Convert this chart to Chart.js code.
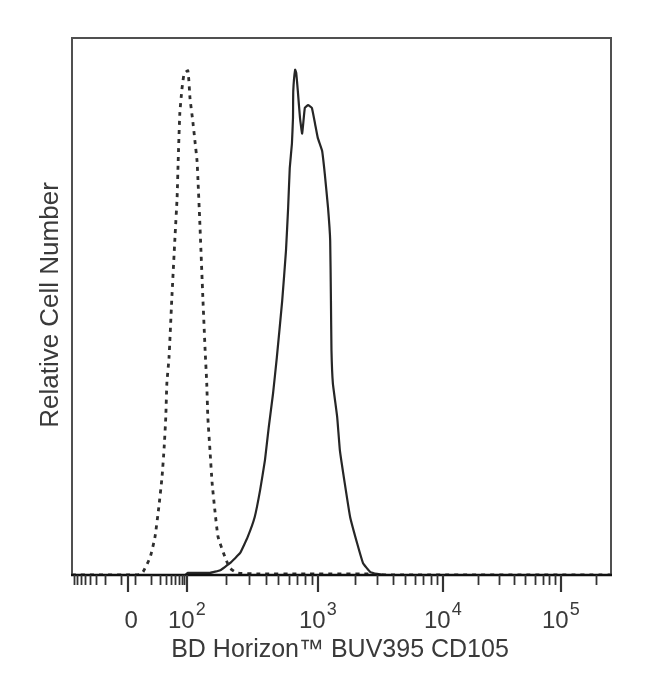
<!DOCTYPE html>
<html>
<head>
<meta charset="utf-8">
<script src="https://cdn.jsdelivr.net/npm/chart.js@4.4.1/dist/chart.umd.min.js"></script>
<style>
  html, body { margin: 0; padding: 0; background: #fff; }
  #wrap { width: 650px; height: 693px; }
</style>
</head>
<body>
<div id="wrap"><canvas id="histo" width="650" height="693"></canvas></div>
<script>
// x axis is in display channels (0-1000) of a biexponential scale
const decadeValues = [0, 100, 1000, 10000, 100000];
const decadeChannels = [104, 213, 456, 688, 907];
const tickBase = ['0', '10', '10', '10', '10'];
const tickExp = ['', '2', '3', '4', '5'];

const xTitle = 'BD Horizon\u2122 BUV395 CD105';
const yTitle = 'Relative Cell Number';

// isotype control (dashed)
const isoX = [0, 108, 126, 132, 145, 154, 161, 167, 171, 174, 176, 180, 185, 191, 195, 197, 200, 204, 208, 215,
  219, 224, 228, 232, 234, 237, 243, 247, 250, 252, 256, 260, 265, 271, 284, 293, 306, 349, 423, 553, 571, 1000];
const isoY = [0, 0, 0.1, 0.6, 3.3, 7.1, 12.6, 18.2, 23.8, 29.4, 35.7, 40.5, 51.1, 62.8, 70.3, 77.1, 85.9, 90.5, 93.3, 93.9,
  88.7, 84.6, 80.9, 77.1, 72.9, 66.0, 51.1, 41.8, 35.7, 29.4, 23.2, 17.1, 12.1, 7.1, 3.3, 1.3, 0.4, 0.2, 0.2, 0.2, 0, 0];

// CD105 stained (solid)
const cdX = [0, 210, 215, 237, 256, 275, 293, 312, 326, 339, 349, 358, 365, 373, 380, 390, 397, 401, 404, 408, 410, 410.5,
  414, 416, 419, 423, 427, 432, 438, 445, 451, 456, 464, 469, 475, 479, 480.4, 481.4, 484, 492, 497, 506, 516, 529, 540,
  553, 566, 581, 1000];
const cdY = [0, 0, 0.4, 0.4, 0.4, 0.9, 2.2, 4.1, 7.1, 10.8, 15.8, 21.4, 27.5, 33.8, 40.5, 51.1, 60.4, 68.4, 75.8, 80.3, 85.1, 90.1,
  94.1, 93.5, 90.1, 85.1, 82.2, 87.0, 87.5, 87.0, 84.0, 81.4, 79.0, 74.7, 68.4, 62.3, 51.1, 41.8, 35.7, 29.4, 23.2, 17.1, 10.8, 5.9, 2.2,
  0.6, 0.2, 0, 0];

function toPoints(xs, ys) {
  return xs.map((x, i) => ({ x, y: ys[i] }));
}

function channelFor(v) {
  const a = Math.abs(v);
  const s = Math.sign(v);
  if (a <= 100) {
    const span = decadeChannels[1] - decadeChannels[0];
    const f = a === 0 ? 0 : Math.max(0, 1 - (1 - Math.log10(a / 10)) * 0.88);
    return decadeChannels[0] + s * span * f;
  }
  const d = Math.log10(a);
  const k = Math.min(Math.floor(d), 5);
  const lo = decadeChannels[k - 1];
  const hi = k < 5 ? decadeChannels[k] : lo + (lo - decadeChannels[k - 2]);
  return lo + (d - k) * (hi - lo);
}

function minorTicks() {
  const vals = [];
  for (let k = 1; k <= 9; k += 1) {
    vals.push(-10 * k, 10 * k);
  }
  [100, 1000, 10000, 100000].forEach(dec => {
    for (let k = 2; k <= 9; k += 1) vals.push(k * dec);
  });
  return vals.map(channelFor).filter(c => c >= 0 && c <= 1000);
}

const axisPainter = {
  id: 'axisPainter',
  afterDraw(chart) {
    const { ctx, chartArea: area, scales } = chart;
    const xs = scales.x;
    ctx.save();

    // frame
    ctx.strokeStyle = '#505050';
    ctx.lineWidth = 2;
    ctx.beginPath();
    ctx.moveTo(area.left, area.bottom);
    ctx.lineTo(area.left, area.top);
    ctx.lineTo(area.right, area.top);
    ctx.lineTo(area.right, area.bottom);
    ctx.stroke();

    ctx.strokeStyle = '#111';
    ctx.lineWidth = 2.5;
    ctx.beginPath();
    ctx.moveTo(area.left - 1, area.bottom);
    ctx.lineTo(area.right + 1, area.bottom);
    ctx.stroke();

    // ticks
    ctx.lineWidth = 1.8;
    ctx.strokeStyle = '#333';
    minorTicks().forEach(c => {
      const px = Math.round(xs.getPixelForValue(c)) + 0.5;
      ctx.beginPath();
      ctx.moveTo(px, area.bottom);
      ctx.lineTo(px, area.bottom + 10);
      ctx.stroke();
    });
    ctx.lineWidth = 2.2;
    decadeChannels.forEach(c => {
      const px = Math.round(xs.getPixelForValue(c));
      ctx.beginPath();
      ctx.moveTo(px, area.bottom);
      ctx.lineTo(px, area.bottom + 17);
      ctx.stroke();
    });

    // tick labels
    ctx.fillStyle = '#3a3a3a';
    ctx.textBaseline = 'alphabetic';
    const baseFont = '24px "Liberation Sans", Arial, sans-serif';
    const expFont = '18px "Liberation Sans", Arial, sans-serif';
    decadeChannels.forEach((c, i) => {
      const px = xs.getPixelForValue(c);
      ctx.font = baseFont;
      const wb = ctx.measureText(tickBase[i]).width;
      ctx.font = expFont;
      const we = tickExp[i] ? ctx.measureText(tickExp[i]).width + 1 : 0;
      const x0 = px - (wb + we) / 2 + (i === 0 ? 3 : 0);
      ctx.font = baseFont;
      ctx.textAlign = 'left';
      ctx.fillText(tickBase[i], x0, 628);
      if (tickExp[i]) {
        ctx.font = expFont;
        ctx.fillText(tickExp[i], x0 + wb + 1, 615);
      }
    });

    // axis titles
    ctx.font = '25px "Liberation Sans", Arial, sans-serif';
    ctx.textAlign = 'center';
    ctx.fillText(xTitle, 340, 657);
    ctx.font = '26px "Liberation Sans", Arial, sans-serif';
    ctx.translate(58, 305);
    ctx.rotate(-Math.PI / 2);
    ctx.fillText(yTitle, 0, 0);
    ctx.restore();
  }
};

new Chart(document.getElementById('histo'), {
  type: 'line',
  data: {
    datasets: [
      {
        label: 'Isotype control',
        data: toPoints(isoX, isoY),
        borderColor: '#2e2e2e',
        borderWidth: 2.8,
        borderDash: [4, 5],
        pointRadius: 0,
        tension: 0.15,
        fill: false
      },
      {
        label: 'CD105',
        data: toPoints(cdX, cdY),
        borderColor: '#262626',
        borderWidth: 2.2,
        pointRadius: 0,
        tension: 0.1,
        fill: false
      }
    ]
  },
  options: {
    responsive: false,
    animation: false,
    devicePixelRatio: 1,
    layout: { padding: { left: 72, right: 39, top: 38, bottom: 118 } },
    scales: {
      x: { type: 'linear', min: 0, max: 1000, display: false },
      y: { type: 'linear', min: 0, max: 100, display: false }
    },
    plugins: {
      legend: { display: false },
      tooltip: { enabled: false }
    }
  },
  plugins: [axisPainter]
});
</script>
</body>
</html>
